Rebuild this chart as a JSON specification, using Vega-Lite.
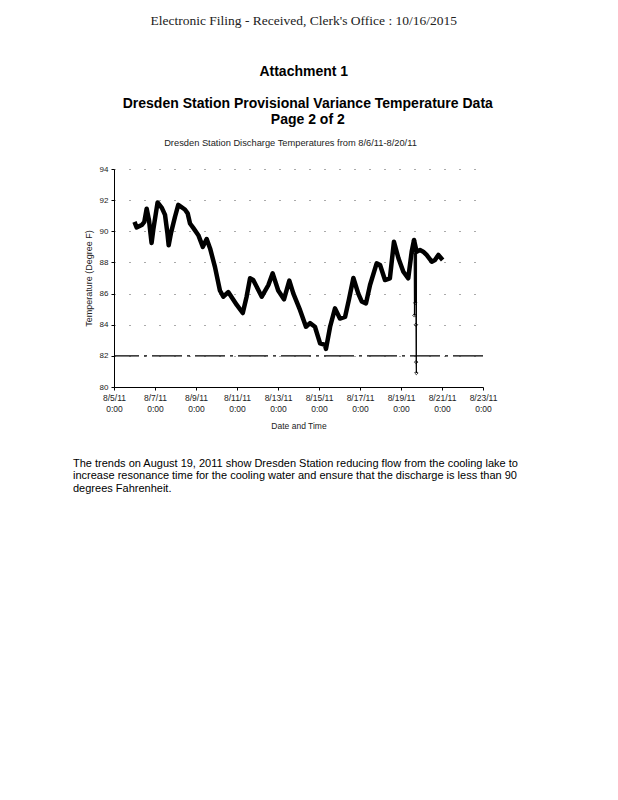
{
  "$schema": "https://vega.github.io/schema/vega-lite/v6.json",
  "background": "white",
  "padding": {"left": 73, "top": 14, "right": 5, "bottom": 5},
  "bounds": "flush",
  "config": {"view": {"stroke": null}, "font": "Liberation Sans"},
  "title": {
    "text": "Electronic   Filing  - Received,   Clerk's  Office  :  10/16/2015",
    "subtitle": "Attachment 1",
    "font": "Liberation Serif", "fontSize": 13.5, "fontWeight": "normal", "color": "#222",
    "subtitleFont": "Liberation Sans", "subtitleFontSize": 14, "subtitleFontWeight": "bold", "subtitleColor": "black",
    "subtitlePadding": 37, "anchor": "middle", "offset": 18, "dx": 8
  },
  "vconcat": [
    {
      "title": {"text": ["Dresden Station Provisional Variance Temperature Data", "Page 2 of 2"], "font": "Liberation Sans", "fontSize": 14, "fontWeight": "bold", "color": "black", "lineHeight": 16, "anchor": "middle", "offset": 12, "dx": 12},
      "bounds": "flush",
      "spacing": 65,
      "vconcat": [
        {
          "title": {"text": "Dresden Station Discharge Temperatures from 8/6/11-8/20/11", "fontSize": 9.3, "fontWeight": "normal", "font": "Liberation Sans", "offset": 17, "anchor": "middle", "color": "#222", "dx": -8},
          "width": 369,
          "height": 218,
          "encoding": {
            "y": {"field": "v", "type": "quantitative", "scale": {"domain": [80, 94]},
              "axis": {"title": "Temperature (Degree F)", "titleFontSize": 9, "titleFontWeight": "normal", "titleColor": "#222", "titlePadding": 6,
                "values": [80, 82, 84, 86, 88, 90, 92, 94], "labelOverlap": false, "labelFontSize": 8, "labelColor": "#222",
                "grid": true, "gridDash": [1, 14], "gridColor": "#555", "tickSize": 3, "tickColor": "black", "domainColor": "black", "labelPadding": 3}}
          },
          "layer": [
            {
              "data": {"values": [{"v": 82}]},
              "mark": {"type": "rule", "color": "black", "strokeWidth": 1.2, "strokeDash": [30, 5, 3, 5]}
            },
            {
              "data": {"name": "temps"},
              "transform": [{"filter": "datum.s == 'main'"}],
              "mark": {"type": "line", "color": "black", "strokeWidth": 4.5, "strokeJoin": "round"},
              "encoding": {
                "x": {"field": "t", "type": "temporal",
                  "scale": {"domain": [{"year": 2011, "month": 8, "date": 5}, {"year": 2011, "month": 8, "date": 23}]},
                  "axis": {"title": "Date and Time", "titleFontSize": 8.5, "titleFontWeight": "normal", "titlePadding": 9, "titleColor": "#222",
                    "labelFontSize": 8.5, "labelColor": "#222", "labelExpr": "[timeFormat(datum.value, '%-m/%-d/%y'), '0:00']",
                    "tickCount": {"interval": "day", "step": 2}, "grid": false, "domainColor": "black", "tickColor": "black",
                    "tickSize": 3, "labelPadding": 3, "labelLineHeight": 11, "labelFlush": false, "labelOverlap": false}}
              }
            },
            {
              "data": {"name": "temps"},
              "transform": [{"filter": "datum.s == 'spike'"}],
              "mark": {"type": "line", "color": "black", "strokeWidth": 1, "point": {"shape": "diamond", "filled": false, "size": 12, "color": "black", "strokeWidth": 0.8}},
              "encoding": {
                "x": {"field": "t", "type": "temporal"}
              }
            }
          ]
        },
        {
          "width": 400,
          "height": 1,
          "data": {"values": [{}]},
          "mark": {"type": "text", "text": ""},
          "title": {
            "text": ["The trends on August 19, 2011 show Dresden Station reducing flow from the cooling lake to", "increase resonance time for the cooling water and ensure that the discharge is less than 90", "degrees Fahrenheit."],
            "orient": "bottom", "anchor": "start", "dx": -41, "offset": 0, "fontSize": 11, "fontWeight": "normal", "lineHeight": 12.5, "color": "black", "font": "Liberation Sans"
          }
        }
      ]
    }
  ],
  "datasets": {
    "temps": [
      {"s": "main", "t": "2011-08-06T00:00", "v": 90.6},
      {"s": "main", "t": "2011-08-06T02:30", "v": 90.25},
      {"s": "main", "t": "2011-08-06T08:30", "v": 90.4},
      {"s": "main", "t": "2011-08-06T11:30", "v": 90.6},
      {"s": "main", "t": "2011-08-06T14:15", "v": 91.45},
      {"s": "main", "t": "2011-08-06T17:00", "v": 90.7},
      {"s": "main", "t": "2011-08-06T20:00", "v": 89.25},
      {"s": "main", "t": "2011-08-06T22:00", "v": 90.1},
      {"s": "main", "t": "2011-08-07T03:00", "v": 91.85},
      {"s": "main", "t": "2011-08-07T08:00", "v": 91.5},
      {"s": "main", "t": "2011-08-07T11:45", "v": 91.05},
      {"s": "main", "t": "2011-08-07T14:30", "v": 89.9},
      {"s": "main", "t": "2011-08-07T16:00", "v": 89.1},
      {"s": "main", "t": "2011-08-07T18:45", "v": 89.9},
      {"s": "main", "t": "2011-08-07T23:30", "v": 90.95},
      {"s": "main", "t": "2011-08-08T03:15", "v": 91.7},
      {"s": "main", "t": "2011-08-08T11:00", "v": 91.4},
      {"s": "main", "t": "2011-08-08T14:15", "v": 91.15},
      {"s": "main", "t": "2011-08-08T17:00", "v": 90.5},
      {"s": "main", "t": "2011-08-08T21:00", "v": 90.2},
      {"s": "main", "t": "2011-08-09T02:45", "v": 89.75},
      {"s": "main", "t": "2011-08-09T08:00", "v": 89.0},
      {"s": "main", "t": "2011-08-09T12:30", "v": 89.5},
      {"s": "main", "t": "2011-08-09T16:30", "v": 88.9},
      {"s": "main", "t": "2011-08-09T22:15", "v": 87.7},
      {"s": "main", "t": "2011-08-10T04:00", "v": 86.2},
      {"s": "main", "t": "2011-08-10T08:00", "v": 85.8},
      {"s": "main", "t": "2011-08-10T13:45", "v": 86.1},
      {"s": "main", "t": "2011-08-10T23:45", "v": 85.27},
      {"s": "main", "t": "2011-08-11T06:45", "v": 84.75},
      {"s": "main", "t": "2011-08-11T11:15", "v": 85.8},
      {"s": "main", "t": "2011-08-11T15:15", "v": 86.98},
      {"s": "main", "t": "2011-08-11T19:00", "v": 86.87},
      {"s": "main", "t": "2011-08-12T05:00", "v": 85.8},
      {"s": "main", "t": "2011-08-12T12:45", "v": 86.55},
      {"s": "main", "t": "2011-08-12T17:45", "v": 87.3},
      {"s": "main", "t": "2011-08-13T00:15", "v": 86.2},
      {"s": "main", "t": "2011-08-13T07:00", "v": 85.63},
      {"s": "main", "t": "2011-08-13T13:15", "v": 86.83},
      {"s": "main", "t": "2011-08-13T18:00", "v": 86.0},
      {"s": "main", "t": "2011-08-14T01:45", "v": 84.95},
      {"s": "main", "t": "2011-08-14T08:45", "v": 83.87},
      {"s": "main", "t": "2011-08-14T13:30", "v": 84.1},
      {"s": "main", "t": "2011-08-14T19:15", "v": 83.87},
      {"s": "main", "t": "2011-08-15T01:15", "v": 82.8},
      {"s": "main", "t": "2011-08-15T07:00", "v": 82.7},
      {"s": "main", "t": "2011-08-15T08:10", "v": 82.45},
      {"s": "main", "t": "2011-08-15T13:00", "v": 83.87},
      {"s": "main", "t": "2011-08-15T18:45", "v": 85.05},
      {"s": "main", "t": "2011-08-16T00:30", "v": 84.4},
      {"s": "main", "t": "2011-08-16T06:30", "v": 84.5},
      {"s": "main", "t": "2011-08-16T11:00", "v": 85.6},
      {"s": "main", "t": "2011-08-16T16:15", "v": 87.0},
      {"s": "main", "t": "2011-08-16T22:00", "v": 86.0},
      {"s": "main", "t": "2011-08-17T02:00", "v": 85.5},
      {"s": "main", "t": "2011-08-17T07:00", "v": 85.37},
      {"s": "main", "t": "2011-08-17T11:45", "v": 86.55},
      {"s": "main", "t": "2011-08-17T19:30", "v": 87.94},
      {"s": "main", "t": "2011-08-17T23:30", "v": 87.83},
      {"s": "main", "t": "2011-08-18T05:15", "v": 86.87},
      {"s": "main", "t": "2011-08-18T11:00", "v": 86.98},
      {"s": "main", "t": "2011-08-18T15:45", "v": 89.33},
      {"s": "main", "t": "2011-08-18T21:00", "v": 88.27},
      {"s": "main", "t": "2011-08-19T02:45", "v": 87.4},
      {"s": "main", "t": "2011-08-19T08:30", "v": 86.98},
      {"s": "main", "t": "2011-08-19T12:30", "v": 88.69},
      {"s": "main", "t": "2011-08-19T15:15", "v": 89.44},
      {"s": "main", "t": "2011-08-19T18:15", "v": 88.69},
      {"s": "main", "t": "2011-08-19T22:15", "v": 88.8},
      {"s": "main", "t": "2011-08-20T02:00", "v": 88.69},
      {"s": "main", "t": "2011-08-20T06:00", "v": 88.48},
      {"s": "main", "t": "2011-08-20T12:00", "v": 88.05},
      {"s": "main", "t": "2011-08-20T15:45", "v": 88.16},
      {"s": "main", "t": "2011-08-20T19:45", "v": 88.48},
      {"s": "main", "t": "2011-08-21T00:45", "v": 88.16},
      {"s": "spike", "t": "2011-08-19T15:15", "v": 89.4},
      {"s": "spike", "t": "2011-08-19T15:45", "v": 84.6},
      {"s": "spike", "t": "2011-08-19T16:15", "v": 88.6},
      {"s": "spike", "t": "2011-08-19T16:45", "v": 85.4},
      {"s": "spike", "t": "2011-08-19T17:15", "v": 88.9},
      {"s": "spike", "t": "2011-08-19T17:30", "v": 84.0},
      {"s": "spike", "t": "2011-08-19T17:45", "v": 81.6},
      {"s": "spike", "t": "2011-08-19T18:00", "v": 80.9},
      {"s": "spike", "t": "2011-08-19T18:15", "v": 88.7}
    ]
  }
}
